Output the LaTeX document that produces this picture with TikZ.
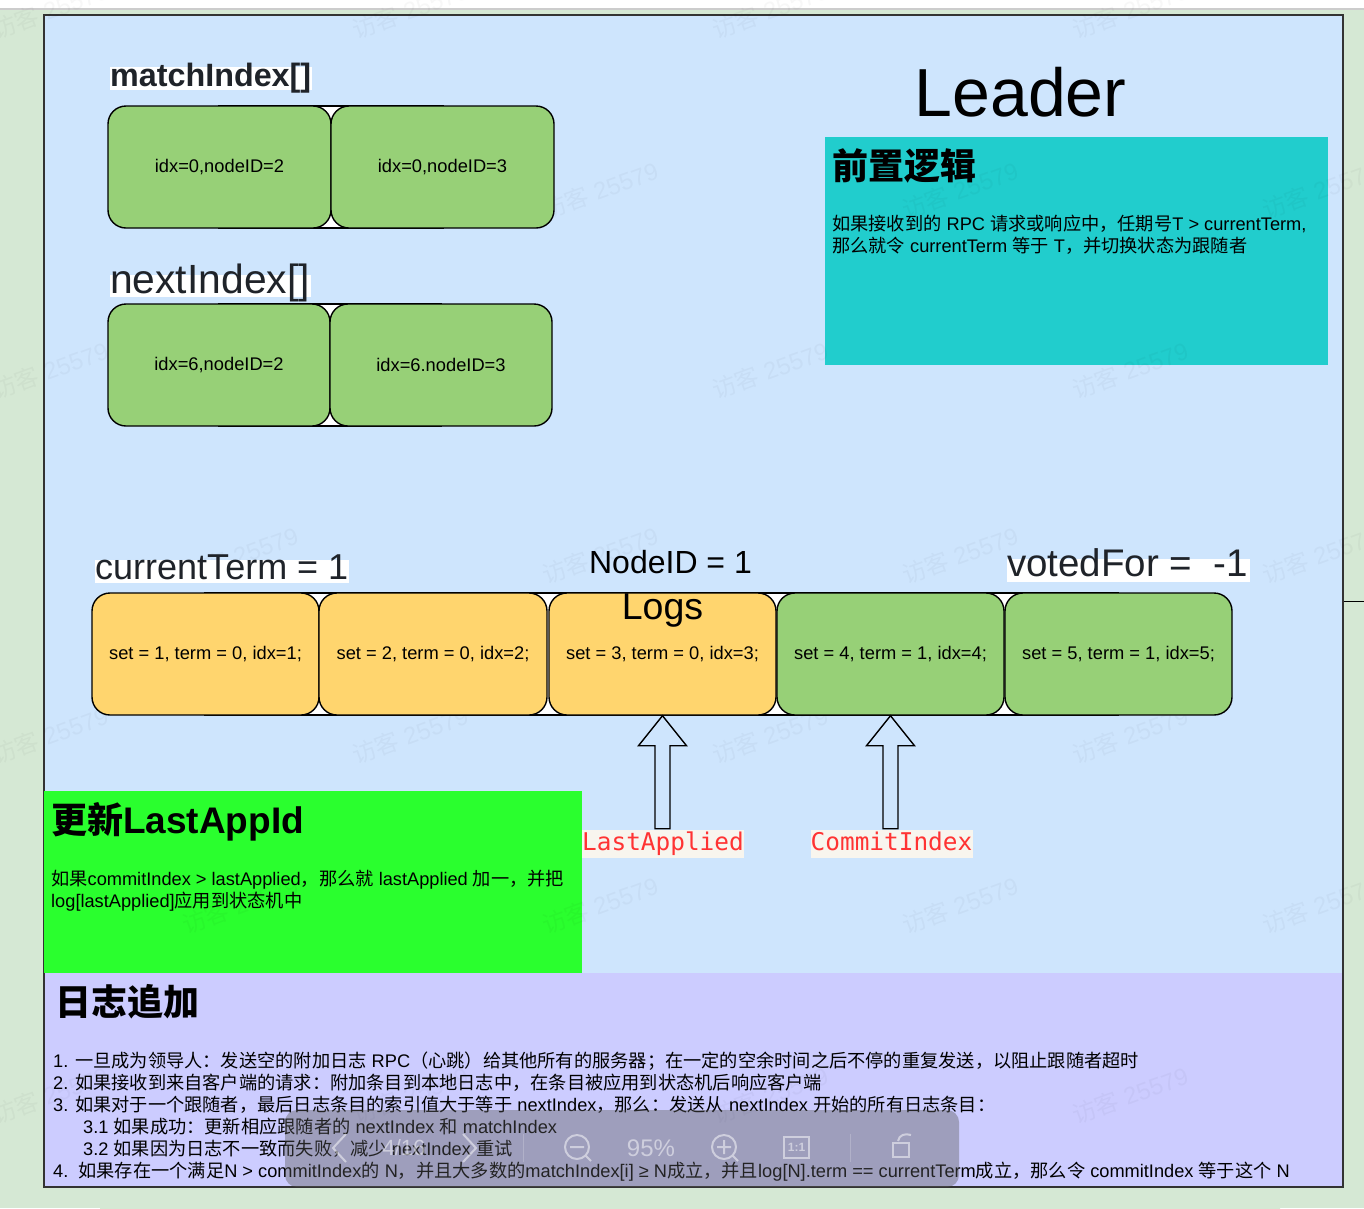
\documentclass[tikz,border=0pt]{standalone}
\usepackage{fontspec}
\setmainfont{Liberation Sans}
\newfontfamily\cjk{Noto Sans CJK SC}
\newfontfamily\monofont{DejaVu Sans Mono}
\newcommand{\zh}[1]{{\cjk #1}}
\usetikzlibrary{arrows}

\definecolor{pagegreen}{HTML}{D5E8D4}
\definecolor{panelblue}{HTML}{CEE5FD}
\definecolor{panelpurple}{HTML}{CCCCFF}
\definecolor{boxgreen}{HTML}{97D077}
\definecolor{boxorange}{HTML}{FFD56E}
\definecolor{logicteal}{HTML}{21CDCD}
\definecolor{applygreen}{HTML}{2AFF2E}
\definecolor{ink}{HTML}{1F2329}
\definecolor{codered}{HTML}{FF3333}
\definecolor{codebg}{HTML}{F8F5EE}

\tikzset{
  cell/.style={draw, line width=1.4pt, rounded corners=18pt, minimum width=223pt, minimum height=122pt, inner sep=0pt, font=\fontsize{18.3}{22}\selectfont},
  greencell/.style={cell, fill=boxgreen},
  orangecell/.style={cell, fill=boxorange},
  whitelabel/.style={fill=white, text=ink, inner sep=0pt, anchor=base west},
  codelabel/.style={fill=codebg, text=codered, inner sep=0pt, text height=18pt, text depth=5pt, minimum width=162pt, minimum height=28pt, font=\monofont\fontsize{24.4}{28}\selectfont},
  heading/.style={anchor=base west, inner sep=0pt, font=\fontsize{36}{40}\selectfont\bfseries},
  bodytext/.style={anchor=north west, inner sep=0pt, align=left, font=\fontsize{18.22}{22}\selectfont},
  hollowarrow/.style={line width=1.4pt, to path={(\tikztotarget.south) -- ++(24,30) -- ++(-16.5,0) -- ++(0,83) -- ++(-15,0) -- ++(0,-83) -- ++(-16.5,0) -- cycle}},
  toolicon/.style={draw=white, draw opacity=.5, line width=2pt},
  tooltext/.style={text=white, text opacity=.5, inner sep=0pt}
}

\begin{document}
\begin{tikzpicture}[x=1pt,y=-1pt]
\useasboundingbox (0,0) rectangle (1364,1208);

% page behind the panel
\fill[pagegreen] (0,0) rectangle (1364,1208);
\fill[white] (0,0) rectangle (1364,8);
\fill[black!20] (0,8) rectangle (1364,10);
\shade[left color=pagegreen, middle color=black!12!pagegreen, right color=pagegreen] (100,1188) rectangle (1280,1212);
\draw[line width=1pt] (1343,601) -- (1364,601);

% panels
\fill[panelblue] (44,15) rectangle (1343,973);
\fill[panelpurple] (44,973) rectangle (1343,1187);
\fill[logicteal] (825,137) rectangle (1328,365);
\draw[line width=1.2pt, black!80] (44,15) rectangle (1343,1187);
\fill[applygreen] (43.5,791) rectangle (582,973);

% white behind the rows
\draw[fill=white, line width=1.4pt] (219,106) rectangle (443,228);
\draw[fill=white, line width=1.4pt] (219,304) rectangle (441,426);
\draw[fill=white, line width=1.4pt] (205,593) rectangle (1118,715);

% watermark
\foreach \y/\s in {10/50,190/240,370/50,555/240,735/50,905/240,1095/50}
  \foreach \k in {0,1,2,3}
    \node[rotate=20, text=black, text opacity=.03, font=\fontsize{24}{26}\selectfont] (mark\y\k) at (\s+360*\k,\y) {\zh{访客} 25579};

\node[greencell] (match1) at (219.5,167) {idx=0,nodeID=2};
\node[greencell] (match2) at (442.5,167) {idx=0,nodeID=3};
\node[greencell, minimum width=222pt] (next1) at (219,365) {idx=6,nodeID=2};
\node[greencell, minimum width=222pt] (next2) at (441,365) {idx=6.nodeID=3};

\node[orangecell, minimum width=227pt] (log1) at (205.5,654) {set = 1, term = 0, idx=1;};
\node[orangecell, minimum width=228pt] (log2) at (433,654) {set = 2, term = 0, idx=2;};
\node[orangecell, minimum width=227pt] (log3) at (662.5,654) {set = 3, term = 0, idx=3;};
\node[greencell, minimum width=227pt] (log4) at (890.5,654) {set = 4, term = 1, idx=4;};
\node[greencell, minimum width=227pt] (log5) at (1118.5,654) {set = 5, term = 1, idx=5;};

\node[whitelabel, font=\fontsize{32.3}{36}\selectfont\bfseries, text height=19pt, text depth=4pt] (matchTitle) at (110,86) {\makebox[202pt][l]{matchIndex[]}};
\node[whitelabel, font=\fontsize{40.8}{44}\selectfont, text height=18pt, text depth=4pt] (nextTitle) at (110,293) {\makebox[201pt][l]{nextIndex[]}};
\node[whitelabel, font=\fontsize{36}{40}\selectfont, text height=19pt, text depth=4pt] (termTitle) at (95,579) {\makebox[254pt][l]{currentTerm = 1}};
\node[whitelabel, font=\fontsize{38.5}{42}\selectfont, text height=17pt, text depth=6pt] (votedTitle) at (1007,576) {\makebox[243pt][l]{votedFor =\ \ -1}};
\node[font=\fontsize{32}{36}\selectfont, inner sep=0pt] (nodeTitle) at (670.5,562) {NodeID = 1};
\node[font=\fontsize{37.5}{40}\selectfont, inner sep=0pt] (logsTitle) at (662.5,610) {Logs};
\node[font=\fontsize{68}{72}\selectfont, inner sep=0pt] (leaderTitle) at (1020.5,92) {Leader};

\node[heading] (logicHead) at (832,179) {\zh{前置逻辑}};
\node[bodytext] (logicBody) at (832,215) {\zh{如果接收到的} RPC \zh{请求或响应中，任期号}T > currentTerm,\\\zh{那么就令} currentTerm \zh{等于} T\zh{，并切换状态为跟随者}};

\node[heading] (applyHead) at (51,833) {\zh{更新}{\fontsize{37}{40}\selectfont LastAppId}};
\node[bodytext] (applyBody) at (51,870) {\zh{如果}commitIndex > lastApplied\zh{，那么就} lastApplied \zh{加一，并把}\\log[lastApplied]\zh{应用到状态机中}};

\node[heading] (appendHead) at (55,1015) {\zh{日志追加}};
\node[bodytext] (appendBody) at (53,1052) {1. \zh{一旦成为领导人：发送空的附加日志} RPC\zh{（心跳）给其他所有的服务器；在一定的空余时间之后不停的重复发送，以阻止跟随者超时}\\
2. \zh{如果接收到来自客户端的请求：附加条目到本地日志中，在条目被应用到状态机后响应客户端}\\
3. \zh{如果对于一个跟随者，最后日志条目的索引值大于等于} nextIndex\zh{，那么：发送从} nextIndex \zh{开始的所有日志条目：}\\
\hspace*{30pt}3.1 \zh{如果成功：更新相应跟随者的} nextIndex \zh{和} matchIndex\\
\hspace*{30pt}3.2 \zh{如果因为日志不一致而失败，减少} nextIndex \zh{重试}\\
4.\ \ \zh{如果存在一个满足}N > commitIndex\zh{的} N\zh{，并且大多数的}matchIndex[i] ≥ N\zh{成立，并且}log[N].term == currentTerm\zh{成立，那么令} commitIndex \zh{等于这个} N};

\node[codelabel] (lastApplied) at (663,844) {LastApplied};
\node[codelabel] (commitIndex) at (891.5,844) {CommitIndex};

\path[]
(lastApplied) edge[hollowarrow] (log3)
(commitIndex) edge[hollowarrow] (log4)
;

% viewer toolbar on top
\fill[black!65, opacity=.4, rounded corners=12pt] (285,1110) rectangle (959,1187);
\draw[toolicon] (346,1134) -- (333,1148) -- (346,1162);
\draw[toolicon] (463,1134) -- (476,1148) -- (463,1162);
\node[tooltext, font=\fontsize{22}{24}\selectfont] (pageNo) at (404,1148) {4/16};
\draw[draw=white, draw opacity=.2, line width=1pt] (523,1134) -- (523,1162);
\draw[draw=white, draw opacity=.2, line width=1pt] (850,1134) -- (850,1162);
\draw[toolicon] (577,1147) circle (12) (570,1147) -- (584,1147) (586,1156) -- (591,1161);
\node[tooltext, font=\fontsize{24}{26}\selectfont] (zoomNo) at (651,1148) {95\%};
\draw[toolicon] (724,1147) circle (12) (717,1147) -- (731,1147) (724,1140) -- (724,1154) (733,1156) -- (738,1161);
\draw[toolicon] (784,1137) rectangle (809,1158);
\node[tooltext, font=\fontsize{12}{14}\selectfont\bfseries] (actualSize) at (796.5,1147.5) {1:1};
\draw[toolicon] (893,1143) rectangle (909,1157);
\draw[toolicon] (898,1141) .. controls (899,1135) and (905,1133) .. (911,1135);
\end{tikzpicture}
\end{document}
